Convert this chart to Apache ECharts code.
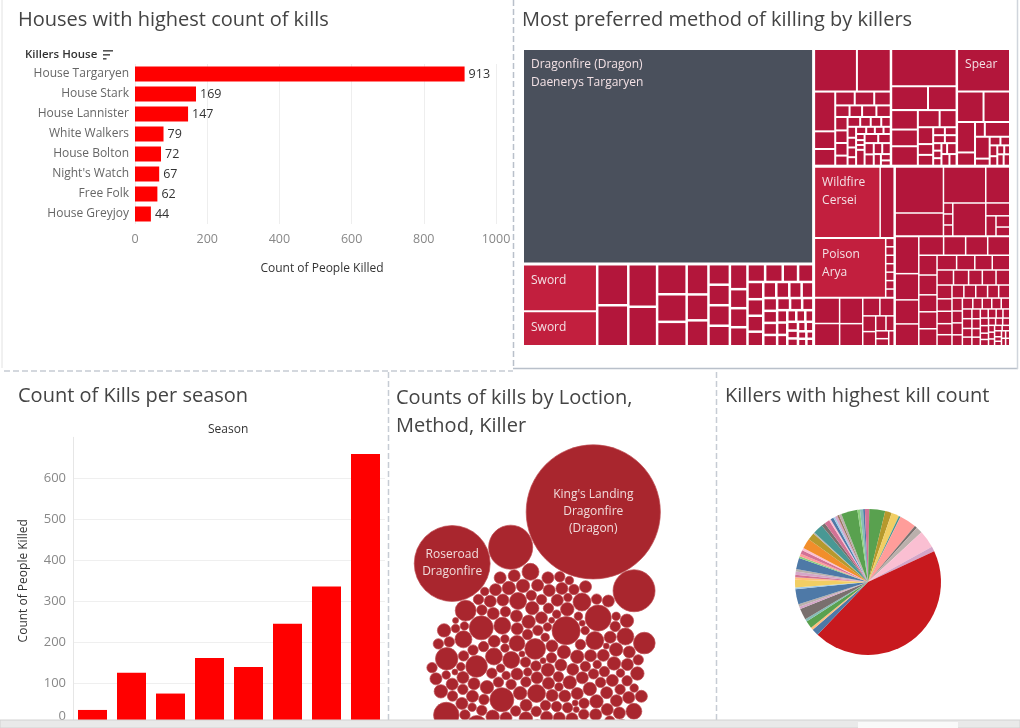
<!DOCTYPE html>
<html><head><meta charset="utf-8">
<script src="https://cdn.jsdelivr.net/npm/echarts@6/dist/echarts.min.js"></script>
<style>html,body{margin:0;padding:0;background:#fff}#c{width:1020px;height:728px}</style>
</head><body><div id="c"></div>
<script>
// ---------------- DATA ----------------
const houses = ['House Targaryen','House Stark','House Lannister','White Walkers','House Bolton',"Night's Watch",'Free Folk','House Greyjoy'];
const houseKills = [913,169,147,79,72,67,62,44];
const houseAxisMax = 1000, houseAxisStep = 200;

const seasons = ['Season 1','Season 2','Season 3','Season 4','Season 5','Season 6','Season 7','Season 8'];
const seasonKills = [35,126,75,162,140,245,336,659];
const seasonAxisMax = 700, seasonAxisStep = 100;

// Treemap (method / killer) sizes, grouped as in the reference
const tmDragonfire = 5950;                 // Dragonfire (Dragon) - Daenerys Targaryen
const tmSword = [336, 248];
const tmStrip = [122,122,117,109,85,78,69,63,54,54,42,42,42,42,42,32,32,32,30,30,26,26,26,25,24,22,20,20,19,18,17,16,16,15,15,14,13,12,12,11,10,10,9,9,8,8,7,7,6,6,5,5];
const tmBlockA = [176,139,81,36,34,26,26,22,16,14,16,16,16,15,15,12,12,10,10,9,9,8,8,7,7,6,6,5,5,4,4,13,12,11,10,10,9,9,8,6,5];
const tmBlockB = [235,85,66,50,43,50,36,28,25,16,16,9,9,9,9,6,6,6,6,10,9,8];
const tmSpear = 218;
const tmBlockC = [78,78,53,23,14,36,31,10,9,8,8,7,6,5,7,7];
const tmWildfire = 455;
const tmWildfireSide = [97];
const tmPoison = 412;
const tmPoisonSide = [7,7,7,7,7,7,7];
const tmXBottom = [63,55,58,50,30,25,20,18,15,12,10,9,8];
const tmY1 = [216,108,148,84,10,10,10,106,30,20,15,12];
const tmY2 = [85,60,55,50,45,40,40,40,35,35,30,30,30,28,26,25,25,24,22,20,20,20,20,18,18,16,16,15,15,15,14,14,13,12,12,11,11,10,10,10,9,9,9,8,8,8,8,7,7,7,7,6,6,6,6,5,5,5,5,5,4,4,4,4,4,4,3,3,3,3,3,3];

// Packed bubbles: kills per location / method / killer (data order)
const bubbleValues = [
4,3,5,2,4,3,9,4,3,1,5,3,4,12,3,2,4,3,8,4,
3,5,2,4,16,3,4,1,3,5,4,7,3,2,4,3,5,4,2,3,
5,3,4,8,2,4,3,22,4,3,5,1,4,3,2,9,4,5,3,4,
3,4,2,5,3,13,4,3,1,4,5,3,8,4,2,3,25,4,3,5,
4,2,3,9,4,5,3,1,4,3,16,4,2,5,3,4,7,3,4,2,
5,3,4,3,11,2,4,5,3,1,4,8,3,4,2,5,3,19,4,3,
2,4,3,5,4,3,8,2,4,1,30,3,4,5,3,2,4,9,3,4,
4,3,5,2,14,3,4,3,1,5,4,2,3,7,4,3,18,4,2,3,
3,4,2,5,3,4,9,3,1,4,12,5,3,2,4,3,8,4,3,5,
4,5,3,2,20,4,3,1,4,5,3,7,2,4,3,17,4,3,5,2,
3,4,8,2,5,3,4,3,1,4,28,3,5,2,4,9,3,13,4,
160,54,500,49];
const bubbleLabels = {160:'Roseroad\nDragonfire', 500:"King's Landing\nDragonfire\n(Dragon)"};

// Pie: kills per killer (clockwise from 12 o'clock)
const killerCounts = [5,62,26,30,7,66,10,25,69,19,778,27,10,29,10,44,10,10,59,7,29,10,10,12,10,44,7,10,15,10,39,29,5,39,15,20,7,12,7,10,7,10,64,10,12,7,12];
const killerColors = ['#D37295','#59A14F','#B6992D','#F1CE63','#499894','#FF9D9A','#79706E','#BAB0AC','#FABFD2','#D4A6C8','#C8191E',
 '#4E79A7','#FFBE7D','#59A14F','#86BCB6','#79706E','#D4A6C8','#BAB0AC','#4E79A7','#A0CBE8','#F1CE63','#FFBE7D','#D37295','#D4A6C8','#BAB0AC',
 '#4E79A7','#8CD17D','#FF9D9A','#D37295','#FABFD2','#F28E2B','#B6992D','#BAB0AC','#499894','#79706E','#D37295','#FABFD2','#4E79A7','#A0CBE8',
 '#D4A6C8','#9D7660','#BAB0AC','#59A14F','#8CD17D','#86BCB6','#4E79A7','#D37295'];

// ---------------- BUILD ----------------
const FONT = '"Open Sans", Lato, sans-serif';
const CRIMSON = '#b3163b', CRIMSON_HI = '#c21f3e', SLATE = '#4a505c';

function leaves(vals){ return vals.map(v => ({name:'', value:v, itemStyle:{color:CRIMSON}})); }
function named(v, method, killer, color){ return {name:method, killer:killer, value:v, itemStyle:{color:color}, label:{show:true}}; }
const treeData = [
  {name:'', children:[
    named(tmDragonfire,'Dragonfire (Dragon)','Daenerys Targaryen',SLATE),
    {name:'', children:[
      {name:'', children:[named(tmSword[0],'Sword','',CRIMSON_HI), named(tmSword[1],'Sword','',CRIMSON_HI)]}
    ].concat(leaves(tmStrip))}
  ]},
  {name:'', children:[
    {name:'', children:[
      {name:'', children:leaves(tmBlockA)},
      {name:'', children:leaves(tmBlockB)},
      {name:'', children:[named(tmSpear,'Spear','',CRIMSON)].concat(leaves(tmBlockC))}
    ]},
    {name:'', children:[
      {name:'', children:[
        {name:'', children:[named(tmWildfire,'Wildfire','Cersei',CRIMSON_HI)].concat(leaves(tmWildfireSide))},
        {name:'', children:[named(tmPoison,'Poison','Arya',CRIMSON_HI)].concat(leaves(tmPoisonSide))},
        {name:'', children:leaves(tmXBottom)}
      ]},
      {name:'', children:[
        {name:'', children:leaves(tmY1)},
        {name:'', children:leaves(tmY2)}
      ]}
    ]}
  ]}
];

// greedy circle packing: each circle tangent to two placed circles, closest to the origin.
// From index chainStart on, the new circle must also touch the previously placed one.
function packCircles(rs, chainStart){
  const P = [];
  for (let k = 0; k < rs.length; k++){
    const r = rs[k];
    if (k === 0){ P.push({x:0,y:0,r:r}); continue; }
    if (k === 1){ P.push({x:P[0].r + r, y:0, r:r}); continue; }
    let best = null, bestD = Infinity;
    const n = P.length, chain = k >= chainStart;
    for (let i = 0; i < n; i++){
      const a = P[i], ra = a.r + r;
      for (let j = i + 1; j < n; j++){
        if (chain && i !== n-1 && j !== n-1) continue;
        const b = P[j], rb = b.r + r;
        const dx = b.x - a.x, dy = b.y - a.y, d2 = dx*dx + dy*dy;
        if (d2 > (ra + rb)*(ra + rb)) continue;
        const d = Math.sqrt(d2);
        if (d === 0 || d < Math.abs(ra - rb)) continue;
        const l = (ra*ra - rb*rb + d2)/(2*d), h2 = ra*ra - l*l;
        if (h2 < 0) continue;
        const h = Math.sqrt(h2), mx = a.x + dx*l/d, my = a.y + dy*l/d;
        for (let s = -1; s <= 1; s += 2){
          const cx = mx - s*dy*h/d, cy = my + s*dx*h/d, dist = cx*cx + cy*cy;
          if (dist >= bestD) continue;
          let ok = true;
          for (let m = 0; m < n; m++){
            if (m === i || m === j) continue;
            const c = P[m], ex = c.x - cx, ey = c.y - cy, rr = c.r + r - 1e-7;
            if (ex*ex + ey*ey < rr*rr){ ok = false; break; }
          }
          if (ok){ bestD = dist; best = {x:cx, y:cy}; }
        }
      }
    }
    if (!best){ const last = P[n-1]; best = {x:last.x + last.r + r, y:last.y}; }
    P.push({x:best.x, y:best.y, r:r});
  }
  return P;
}
const R_UNIT = 3, GAP = 0.35;
const packed = packCircles(bubbleValues.map(v => R_UNIT*Math.sqrt(v) + GAP), bubbleValues.length - 3);
// orient layout: largest bubble toward the upper right, second largest to its left
const order = bubbleValues.map((v,i)=>i).sort((a,b)=>bubbleValues[b]-bubbleValues[a]);
const iK = order[0], iR = order[1];
let sw = 0, sx = 0, sy = 0;
packed.forEach((c,i)=>{ if (bubbleValues[i] < 45){ const w = bubbleValues[i]; sw += w; sx += c.x*w; sy += c.y*w; } });
const ccx = sx/sw, ccy = sy/sw;
packed.forEach(c=>{ c.x -= ccx; c.y -= ccy; });
const ang = c => Math.atan2(c.y, c.x);
let delta = ang(packed[iR]) - ang(packed[iK]);
while (delta > Math.PI) delta -= 2*Math.PI;
while (delta < -Math.PI) delta += 2*Math.PI;
if (delta > 0) packed.forEach(c=>{ c.y = -c.y; });
const rot = (-72*Math.PI/180) - ang(packed[iK]);
packed.forEach(c=>{ const x = c.x*Math.cos(rot) - c.y*Math.sin(rot), y = c.x*Math.sin(rot) + c.y*Math.cos(rot); c.x = x; c.y = y; });
const bubbleData = packed.map((c,i)=>{
  const item = {value:[c.x, c.y, bubbleValues[i]], name:''};
  if (bubbleLabels[bubbleValues[i]]){ item.name = bubbleLabels[bubbleValues[i]]; item.label = {show:true}; }
  return item;
});

const BX0 = 390, BY0 = 440, BW = 326, BH = 280, OX = 538, OY = 682;

const titleStyle = {fontSize:20, fontWeight:'normal', color:'#444', fontFamily:FONT};
const option = {
  animation:false,
  textStyle:{fontFamily:FONT},
  title:[
    {text:'Houses with highest count of kills', left:18, top:10, padding:0, textStyle:titleStyle},
    {text:'Most preferred method of killing by killers', left:522, top:10, padding:0, textStyle:titleStyle},
    {text:'Count of Kills per season', left:18, top:386, padding:0, textStyle:titleStyle},
    {text:'Counts of kills by Loction,\nMethod, Killer', left:396, top:384, padding:0, textStyle:Object.assign({lineHeight:28}, titleStyle)},
    {text:'Killers with highest kill count', left:725, top:386, padding:0, textStyle:titleStyle}
  ],
  grid:[
    {left:135, top:64, width:361, height:160, outerBoundsMode:'none'},
    {left:73, top:437.3, width:312, height:287, outerBoundsMode:'none'},
    {left:BX0, top:BY0, width:BW, height:BH, outerBoundsMode:'none'}
  ],
  xAxis:[
    {gridIndex:0, type:'value', min:0, max:houseAxisMax, interval:houseAxisStep,
     axisLine:{show:false}, axisTick:{show:false},
     axisLabel:{color:'#888', fontSize:12.5, margin:9, formatter:function(v){ return String(v); }},
     splitLine:{show:true, lineStyle:{color:'#eeeeee', width:1}},
     name:'Count of People Killed', nameLocation:'middle', nameGap:39,
     nameTextStyle:{color:'#333', fontSize:12, padding:[0,0,0,13]}},
    {gridIndex:1, type:'category', data:seasons, axisLabel:{show:false}, axisTick:{show:false},
     axisLine:{show:false}},
    {gridIndex:2, type:'value', show:false, min:BX0-OX, max:BX0+BW-OX}
  ],
  yAxis:[
    {gridIndex:0, type:'category', data:houses, inverse:true, axisLine:{show:false}, axisTick:{show:false},
     axisLabel:{color:'#666', fontSize:12, margin:6}},
    {gridIndex:1, type:'value', min:0, max:seasonAxisMax, interval:seasonAxisStep,
     axisLine:{show:true, lineStyle:{color:'#e6e6e6'}}, axisTick:{show:false},
     axisLabel:{color:'#888', fontSize:13, margin:7, showMaxLabel:false,
       formatter:function(v){ return v === 0 ? '{z|0}' : String(v); },
       rich:{z:{color:'#888', fontSize:13, padding:[0,0,16,0]}}},
     splitLine:{show:true, showMaxLine:false, lineStyle:{color:'#efefef'}},
     name:'Count of People Killed', nameLocation:'middle', nameGap:43,
     nameTextStyle:{color:'#333', fontSize:12}},
    {gridIndex:2, type:'value', show:false, inverse:true, min:BY0-OY, max:BY0+BH-OY}
  ],
  series:[
    {type:'bar', xAxisIndex:0, yAxisIndex:0, data:houseKills, barWidth:15, silent:true,
     itemStyle:{color:'#ff0000'},
     label:{show:true, position:'right', distance:4, color:'#333', fontSize:12.5}},
    {type:'bar', xAxisIndex:1, yAxisIndex:1, data:seasonKills, barWidth:29, silent:true,
     itemStyle:{color:'#ff0000'}},
    {type:'treemap', left:524, top:50, width:485, height:295, roam:false, nodeClick:false,
     breadcrumb:{show:false}, sort:false, squareRatio:1, silent:true,
     label:{show:false, position:'insideTopLeft', distance:0, padding:[6,0,0,7],
       color:'#f3e1e5', fontSize:12, lineHeight:18, fontFamily:FONT,
       formatter:function(p){ return p.data && p.data.killer ? p.name + '\n' + p.data.killer : p.name; }},
     upperLabel:{show:false},
     levels:[
       {itemStyle:{gapWidth:3, borderWidth:0, borderColor:'#fff'}},
       {itemStyle:{gapWidth:3, borderWidth:0, borderColor:'#fff'}},
       {itemStyle:{gapWidth:2.5, borderWidth:0, borderColor:'#fff'}},
       {itemStyle:{gapWidth:2, borderWidth:0, borderColor:'#fff'}},
       {itemStyle:{gapWidth:1.5, borderWidth:0, borderColor:'#fff'}},
       {itemStyle:{gapWidth:1.5, borderWidth:0, borderColor:'#fff'}}
     ],
     data:treeData},
    {type:'scatter', xAxisIndex:2, yAxisIndex:2, data:bubbleData, clip:false, silent:true,
     symbolSize:function(val){ return 2*R_UNIT*Math.sqrt(val[2]); },
     itemStyle:{color:'#a9262e', opacity:1, borderColor:'#bd4a50', borderWidth:0.7},
     label:{show:false, position:'inside', formatter:'{b}', color:'#f1dcdc', fontSize:12, lineHeight:17}},
    {type:'pie', center:[868,582], radius:73, startAngle:90, clockwise:true, silent:true,
     label:{show:false}, labelLine:{show:false},
     data:killerCounts.map((v,i)=>({value:v, name:'k'+i, itemStyle:{color:killerColors[i], borderWidth:0}}))}
  ],
  graphic:[
    {type:'text', x:25, y:49, style:{text:'Killers House', fontSize:11.5, fontWeight:600, fill:'#333', fontFamily:FONT}},
    {type:'rect', shape:{x:103,y:50,width:10,height:1.6}, style:{fill:'#555'}},
    {type:'rect', shape:{x:103,y:54,width:7,height:1.6}, style:{fill:'#555'}},
    {type:'rect', shape:{x:103,y:58,width:3.5,height:1.6}, style:{fill:'#555'}},
    {type:'text', x:208, y:424, style:{text:'Season', fontSize:12, fill:'#333', fontFamily:FONT}},
    {type:'line', shape:{x1:2,y1:0,x2:2,y2:368}, style:{stroke:'#e2e2e2', lineWidth:1}},
    {type:'line', shape:{x1:4,y1:371,x2:513,y2:371}, style:{stroke:'#c6ccd4', lineWidth:1.5, lineDash:[6,3]}},
    {type:'line', shape:{x1:513.5,y1:0,x2:513.5,y2:369}, style:{stroke:'#b9c0ca', lineWidth:1.5, lineDash:[6,3]}},
    {type:'line', shape:{x1:513,y1:368.5,x2:1018,y2:368.5}, style:{stroke:'#b9c0ca', lineWidth:1.5}},
    {type:'line', shape:{x1:1017.5,y1:0,x2:1017.5,y2:369}, style:{stroke:'#d0d5dc', lineWidth:1.5}},
    {type:'line', shape:{x1:388.5,y1:372,x2:388.5,y2:720}, style:{stroke:'#c6ccd4', lineWidth:1.5, lineDash:[6,3]}},
    {type:'line', shape:{x1:716.5,y1:372,x2:716.5,y2:720}, style:{stroke:'#c6ccd4', lineWidth:1.5, lineDash:[6,3]}},
    {type:'rect', z:100, shape:{x:0,y:720,width:1020,height:8}, style:{fill:'#e9e9e9', stroke:'#d2d2d2', lineWidth:1}},
    {type:'rect', z:101, shape:{x:858,y:722,width:100,height:6}, style:{fill:'#f9f9f9'}}
  ]
};
const chart = echarts.init(document.getElementById('c'), null, {renderer:'canvas'});
chart.setOption(option);
</script></body></html>
